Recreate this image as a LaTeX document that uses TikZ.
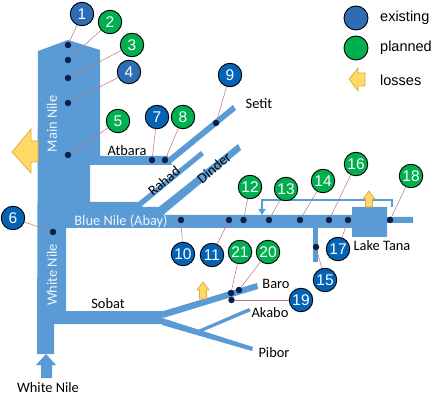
\documentclass[tikz,border=0pt]{standalone}
\usepackage{fontspec}
\setmainfont{Carlito}
\newfontfamily\numfont{Liberation Sans}
\usetikzlibrary{arrows.meta}
\definecolor{river}{HTML}{5B9BD5}
\definecolor{oldblue}{HTML}{2E6DB4}
\definecolor{exblue}{HTML}{0563B5}
\definecolor{plangreen}{HTML}{00B050}
\definecolor{lossfill}{HTML}{FFD966}
\definecolor{lossedge}{HTML}{D9AE3A}
\definecolor{dotblue}{HTML}{0B1F4B}
\definecolor{leader}{HTML}{C0707A}
\tikzset{
  damA/.style={circle,draw=black,line width=0.9pt,fill=oldblue,text=white,minimum size=23.5pt,inner sep=0pt,font=\numfont\fontsize{15.5}{15.5}\selectfont},
  damE/.style={damA,fill=exblue},
  damP/.style={damA,fill=plangreen},
  sitedot/.style={circle,fill=dotblue,minimum size=6.5pt,inner sep=0pt},
  conn/.style={draw=leader,line width=0.5pt},
  riverfill/.style={fill=river,draw=none},
  loss/.style={fill=lossfill,draw=lossedge,line width=0.7pt},
  lbl/.style={font=\fontsize{14.4}{15}\selectfont,text=black,inner sep=0pt},
  wlbl/.style={lbl,text=white!90!river},
  legendtxt/.style={font=\numfont\fontsize{14.5}{15}\selectfont,text=black,inner sep=0pt,anchor=west}
}
\begin{document}
\begin{tikzpicture}[x=1pt,y=-1pt]
\useasboundingbox (0,0) rectangle (442,406);
% rivers
\fill[riverfill] (38,51) -- (68,40) -- (100,50) -- (100,156) -- (168,156) -- (172,165) -- (90,165) -- (90,202) -- (137,202) -- (143,207) -- (160,207) -- (165,215) -- (352,215) -- (352,207) -- (387,207) -- (387,217) -- (413,217) -- (413,223) -- (387,223) -- (387,237) -- (352,237) -- (352,228) -- (66,228) -- (66,311) -- (162,311) -- (162,324) -- (54,324) -- (54,354) -- (37,354) -- cycle;
\fill[riverfill] (168,158) -- (233,105) -- (236,110) -- (170,164) -- cycle;
\fill[riverfill] (137,203) -- (201,151) -- (204,155) -- (142,206) -- cycle;
\fill[riverfill] (155,210) -- (238,144) -- (241,150) -- (163,215) -- cycle;
\fill[riverfill] (160,312) -- (257,283) -- (258,289) -- (163,318) -- cycle;
\fill[riverfill] (162,318) -- (253,347) -- (252,351) -- (162,325) -- cycle;
\fill[riverfill] (198,330) -- (249,308) -- (251,311) -- (199,333) -- cycle;
\fill[riverfill] (313,228) rectangle (318,262);
\draw[river,line width=1.8pt,-{Triangle[length=6pt,width=7pt]}] (392,207) -- (392,200) -- (262,200) -- (262,215);
% arrows
\fill[riverfill] (46,354) -- (56,365) -- (52,365) -- (52,378) -- (41,378) -- (41,365) -- (36,365) -- cycle;
\draw[loss] (12,152) -- (31,129) -- (31,141) -- (38,141) -- (38,162) -- (31,162) -- (31,173) -- cycle;
\draw[loss] (203,282) -- (209,290) -- (206.5,290) -- (206.5,299) -- (199.5,299) -- (199.5,290) -- (197,290) -- cycle;
\draw[loss] (369,191) -- (375,199) -- (372.5,199) -- (372.5,207) -- (365.5,207) -- (365.5,199) -- (363,199) -- cycle;
\draw[loss] (349,79) -- (358,68) -- (358,73) -- (365,73) -- (365,86) -- (358,86) -- (358,91) -- cycle;
% dams
\foreach \n/\st/\cx/\cy/\dx/\dy in {
 1/damA/82/14/68/45, 2/damP/110/22/68/60, 3/damP/132/45/68/78, 4/damA/129/72/68/103,
 5/damP/118/121/68/155, 6/damE/13/218/53/232, 7/damE/157/117/152/160, 8/damP/183/117/165/160,
 9/damE/230/75/216/123, 10/damE/183/254/181/220, 11/damE/212/255/229/220, 12/damP/250/187/243.5/220,
 13/damP/286/189/269/220, 14/damP/323/181/300/220, 15/damE/325/280/316/247, 16/damP/356/164/329/220,
 17/damE/338/249/348/220, 18/damP/411/176/390/220, 19/damE/301/300/231.5/300, 20/damP/268/252/239/290,
 21/damP/240/252/231/293}{
  \node[sitedot] (d\n) at (\dx,\dy) {};
  \node[\st] (c\n) at (\cx,\cy) {\n};
  \draw[conn] (c\n) -- (d\n);
}
% labels
\node[wlbl,rotate=90] (mainnile) at (52,124) {Main Nile};
\node[wlbl,rotate=90] (whitenile) at (52,275) {White Nile};
\node[wlbl] (bluenile) at (121,221) {Blue Nile (Abay)};
\node[lbl] (atbara) at (127,151) {Atbara};
\node[lbl] (setit) at (259,104) {Setit};
\node[lbl,rotate=40] (rahad) at (164,181) {Rahad};
\node[lbl,rotate=40] (dinder) at (214,168) {Dinder};
\node[lbl] (sobat) at (108,304) {Sobat};
\node[lbl] (wn) at (48,388) {White Nile};
\node[lbl] (baro) at (276,284) {Baro};
\node[lbl] (akabo) at (270,313) {Akabo};
\node[lbl] (pibor) at (274,353) {Pibor};
\node[lbl] (tana) at (382,246) {Lake Tana};
% legend
\node[damA,minimum size=24pt] (lege) at (356,18) {};
\node[damP,minimum size=24pt] (legp) at (356,48) {};
\node[legendtxt] (te) at (380,18) {existing};
\node[legendtxt] (tp) at (380,48) {planned};
\node[legendtxt] (tl) at (380,80) {losses};
\end{tikzpicture}
\end{document}
